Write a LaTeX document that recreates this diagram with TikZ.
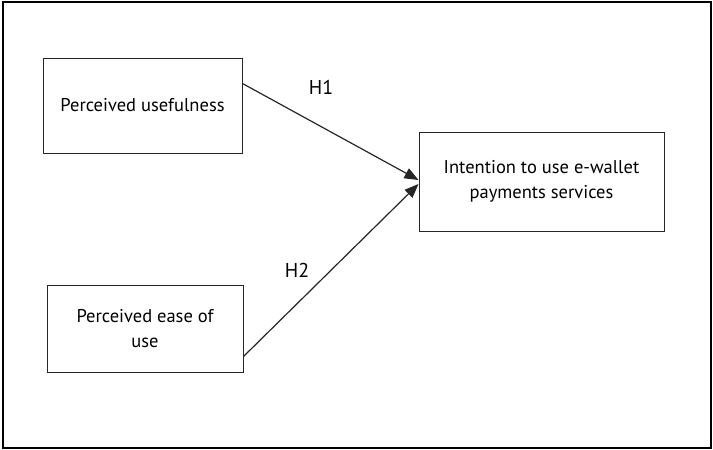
\documentclass[tikz,border=0pt]{standalone}
\usepackage{fontspec}
\setmainfont{PT Sans}
\usetikzlibrary{arrows.meta}
\begin{document}
\begin{tikzpicture}[x=1pt,y=-1pt,
  box/.style={draw=black!85,line width=1pt,align=center,font=\fontsize{18.5}{25}\selectfont,inner sep=0pt},
  conn/.style={draw=black!85,line width=1.2pt,-{Triangle[length=14pt,width=11pt]}},
  lab/.style={font=\fontsize{20}{22}\selectfont}]
\useasboundingbox (0,0) rectangle (713,450);
\draw[line width=1.3pt] (3,2) rectangle (711,448);
\node[box,minimum width=199pt,minimum height=95pt] (pu) at (142.5,105.5) {Perceived usefulness};
\node[box,minimum width=196pt,minimum height=87pt] (peou) at (145,328.5) {Perceived ease of\\use};
\node[box,minimum width=245pt,minimum height=99pt] (iu) at (541.5,181.5) {Intention to use e-wallet\\payments services};
\coordinate (t1) at ([yshift=1.5pt]iu.west);
\coordinate (t2) at ([yshift=-2.5pt]iu.west);
\draw[conn] ([yshift=22pt]pu.east) -- (t1);
\draw[conn] ([yshift=-28pt]peou.east) -- (t2);
\node[lab] (h1) at (321,87) {H1};
\node[lab] (h2) at (297,270) {H2};
\end{tikzpicture}
\end{document}
